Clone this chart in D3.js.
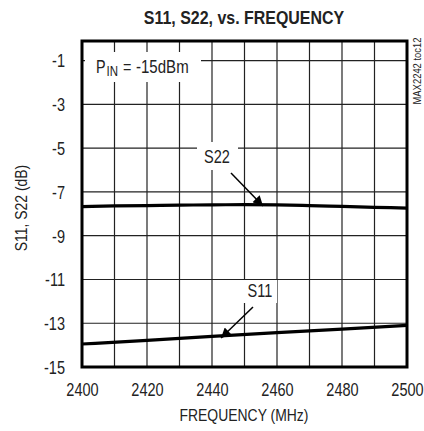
<!DOCTYPE html>
<html><head><meta charset="utf-8">
<script src="https://cdn.jsdelivr.net/npm/d3@7"></script>
<style>
html,body{margin:0;padding:0;background:#fff;}
svg{display:block;}
text{font-family:"Liberation Sans",Arial,sans-serif;fill:#222;}
</style></head><body>
<svg id="c" width="424" height="431"></svg>
<script>
const freqS22 = [2400,2410,2420,2430,2440,2450,2460,2470,2480,2490,2500];
const s22 = [-7.67,-7.64,-7.62,-7.60,-7.59,-7.58,-7.59,-7.62,-7.66,-7.70,-7.74];
const freqS11 = [2400,2420,2440,2460,2480,2500];
const s11 = [-13.95,-13.78,-13.60,-13.43,-13.27,-13.10];
const xTicks = [2400,2420,2440,2460,2480,2500];
const xGrid = [2400,2410,2420,2430,2440,2450,2460,2470,2480,2490,2500];
const yTicks = [-1,-3,-5,-7,-9,-11,-13,-15];

const L=82,R=407,T=41,B=367;
const svg=d3.select("#c");
const x=d3.scaleLinear().domain([2400,2500]).range([L,R]);
const y=d3.scaleLinear().domain([-15,-0.1]).range([B,T]);

// grid
const g=svg.append("g");
g.selectAll("line.v").data(xGrid).join("line")
 .attr("x1",d=>x(d)).attr("x2",d=>x(d)).attr("y1",T).attr("y2",B)
 .attr("stroke","#222").attr("stroke-width",1.2);
g.selectAll("line.h").data(yTicks).join("line")
 .attr("x1",L).attr("x2",R).attr("y1",d=>y(d)).attr("y2",d=>y(d))
 .attr("stroke","#222").attr("stroke-width",1.2);

// white label boxes
const boxes=[[85,52,116,30],[197,142,41,28],[242,280,35,23]];
svg.selectAll("rect.bx").data(boxes).join("rect")
 .attr("x",d=>d[0]).attr("y",d=>d[1]).attr("width",d=>d[2]).attr("height",d=>d[3]).attr("fill","#fff");

// data lines
const line=d3.line().x(d=>x(d[0])).y(d=>y(d[1])).curve(d3.curveMonotoneX);
svg.append("path").datum(freqS22.map((f,i)=>[f,s22[i]])).attr("d",line)
 .attr("fill","none").attr("stroke","#000").attr("stroke-width",3.2);
svg.append("path").datum(freqS11.map((f,i)=>[f,s11[i]])).attr("d",line)
 .attr("fill","none").attr("stroke","#000").attr("stroke-width",3.2);

// frame
svg.append("rect").attr("x",L).attr("y",T).attr("width",R-L).attr("height",B-T)
 .attr("fill","none").attr("stroke","#000").attr("stroke-width",3);

// axes labels (narrowed via horizontal scale around anchor)
const xa=d3.axisBottom(x).tickValues(xTicks).tickSize(0).tickPadding(0).tickFormat(d3.format("d"));
const gx=svg.append("g").attr("transform",`translate(0,${B})`).call(xa);
gx.select(".domain").remove();
gx.selectAll("text").attr("dy",null).attr("y",0).attr("transform","translate(0,29) scale(0.83,1)")
 .attr("font-size",17.5).attr("fill","#222").attr("font-family",null);
const ya=d3.axisLeft(y).tickValues(yTicks).tickSize(0).tickPadding(0).tickFormat(d=>String(d));
const gy=svg.append("g").attr("transform",`translate(${L-17},0)`).call(ya);
gy.select(".domain").remove();
gy.selectAll("text").attr("dy","0.36em").attr("x",0).attr("transform","scale(0.83,1)")
 .attr("font-size",17.5).attr("fill","#222").attr("font-family",null);

// titles
svg.append("text").attr("transform","translate(244,24) scale(0.84,1)").attr("text-anchor","middle")
 .attr("font-size",19).attr("font-weight","bold").attr("fill","#111").text("S11, S22, vs. FREQUENCY");
svg.append("text").attr("transform","translate(244,421) scale(0.82,1)").attr("text-anchor","middle")
 .attr("font-size",17).text("FREQUENCY (MHz)");
svg.append("text").attr("transform","translate(26.5,208) rotate(-90) scale(0.82,1)").attr("text-anchor","middle")
 .attr("font-size",17).text("S11, S22 (dB)");
svg.append("text").attr("transform","translate(421,71) rotate(-90) scale(0.82,1)").attr("text-anchor","middle")
 .attr("font-size",11.5).attr("fill","#555").text("MAX2242 toc12");

// annotations: P_IN label built from pieces
svg.append("text").attr("transform","translate(96,73) scale(0.82,1)").attr("font-size",17.5).text("P");
svg.append("text").attr("transform","translate(106.5,76) scale(0.82,1)").attr("font-size",14).text("IN");
svg.append("text").attr("transform","translate(123,73) scale(0.82,1)").attr("font-size",17.5).text("=");
svg.append("text").attr("transform","translate(136,73) scale(0.86,1)").attr("font-size",17.5).text("-15dBm");

svg.append("text").attr("transform","translate(217,163) scale(0.83,1)").attr("text-anchor","middle").attr("font-size",17.5).text("S22");
svg.append("text").attr("transform","translate(260,297) scale(0.83,1)").attr("text-anchor","middle").attr("font-size",17.5).text("S11");

svg.append("defs").append("marker").attr("id","ah").attr("viewBox","0 0 10 10")
 .attr("refX",10).attr("refY",5).attr("markerWidth",14).attr("markerHeight",10)
 .attr("markerUnits","userSpaceOnUse").attr("orient","auto")
 .append("path").attr("d","M0,0L10,5L0,10Z").attr("fill","#000");
const arrows=[[231,173,263,206],[253,307,221,338]];
svg.selectAll("line.ar").data(arrows).join("line")
 .attr("x1",d=>d[0]).attr("y1",d=>d[1]).attr("x2",d=>d[2]).attr("y2",d=>d[3])
 .attr("stroke","#000").attr("stroke-width",1.5).attr("marker-end","url(#ah)");
</script></body></html>
